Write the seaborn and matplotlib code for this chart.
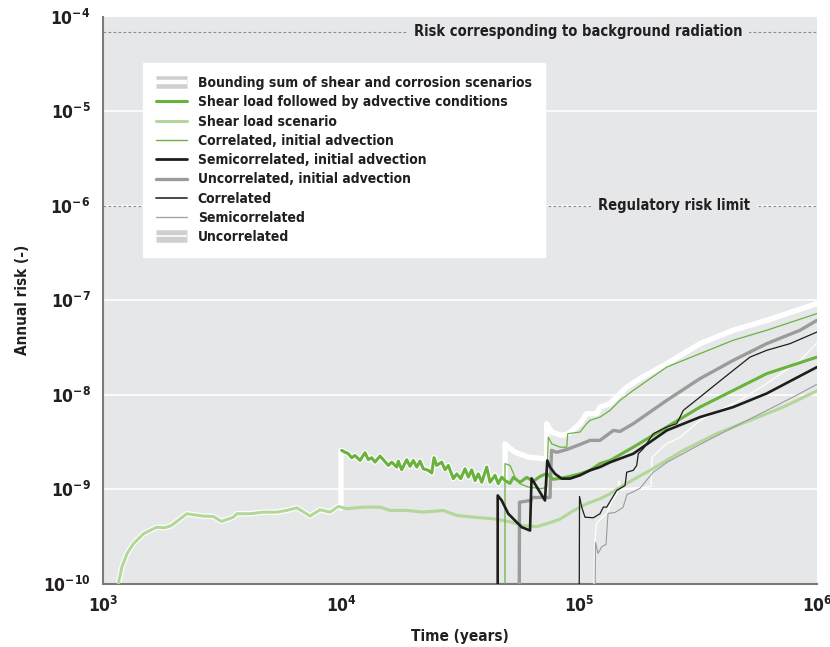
import numpy as np
import pandas as pd
import matplotlib
matplotlib.use("Agg")
import matplotlib.pyplot as plt
import matplotlib.patheffects as pe
from matplotlib.lines import Line2D
from matplotlib.ticker import LogLocator, FuncFormatter, NullFormatter
import matplotlib.transforms as mtransforms
import seaborn as sns

# ---------------- data (time in years, annual risk) ----------------
shear_t = [1160, 1200, 1260, 1340, 1480, 1680, 1820, 1940, 2250, 2640, 2910, 3150, 3530,
           3650, 4150, 4720, 5370, 5910, 6520, 7410, 8160, 8990, 9740, 10570, 12410, 14590,
           16070, 18890, 22170, 26910, 30630, 35970, 43640, 51290, 58340, 66420, 73150,
           83220, 94650, 107800, 122500, 135000, 148700, 198800, 274300, 378900, 523000,
           721900, 1000000]
shear_r = [1.0e-10, 1.49e-10, 2.06e-10, 2.63e-10, 3.36e-10, 3.95e-10, 3.89e-10, 4.12e-10,
           5.48e-10, 5.17e-10, 5.13e-10, 4.54e-10, 5.04e-10, 5.48e-10, 5.48e-10, 5.70e-10,
           5.70e-10, 5.94e-10, 6.34e-10, 5.17e-10, 6.04e-10, 5.70e-10, 6.55e-10, 6.19e-10,
           6.44e-10, 6.44e-10, 5.94e-10, 5.94e-10, 5.70e-10, 5.94e-10, 5.26e-10, 5.04e-10,
           4.85e-10, 4.50e-10, 4.10e-10, 4.0e-10, 4.30e-10, 4.80e-10, 5.9e-10, 7.0e-10,
           7.9e-10, 8.9e-10, 1.05e-9, 1.58e-9, 2.57e-9, 3.86e-9, 5.35e-9, 7.4e-9, 1.1e-8]

adv_t = [10068, 10395, 10731, 11089, 11450, 12016, 12612, 13021, 13457, 13895, 14585, 15058,
         15804, 16333, 17142, 17410, 17991, 18884, 19497, 20130, 20804, 21478, 22176, 23275,
         24054, 24595, 25246, 26497, 27357, 28245, 29648, 30640, 31842, 33195, 34273, 35420,
         36571, 37757, 39021, 40951, 42281, 44365, 45805, 47338, 48874, 51295, 52960, 56502,
         60290, 64270, 68570, 73150, 78000, 83220, 88800, 100970, 111200, 122500, 135000,
         169100, 233700, 322500, 444800, 614800, 1000000]
adv_r = [2.57e-9, 2.46e-9, 2.37e-9, 2.15e-9, 2.27e-9, 2.01e-9, 2.43e-9, 2.05e-9, 2.15e-9,
         1.93e-9, 2.24e-9, 2.05e-9, 1.78e-9, 1.93e-9, 1.71e-9, 1.98e-9, 1.60e-9, 2.05e-9,
         1.74e-9, 2.01e-9, 1.71e-9, 1.98e-9, 1.64e-9, 1.58e-9, 1.48e-9, 2.15e-9, 1.78e-9,
         1.93e-9, 1.60e-9, 1.78e-9, 1.29e-9, 1.45e-9, 1.29e-9, 1.64e-9, 1.34e-9, 1.60e-9,
         1.23e-9, 1.45e-9, 1.18e-9, 1.71e-9, 1.18e-9, 1.40e-9, 1.14e-9, 1.34e-9, 1.23e-9,
         1.15e-9, 1.33e-9, 1.18e-9, 1.33e-9, 1.21e-9, 1.36e-9, 1.46e-9, 1.27e-9, 1.30e-9,
         1.34e-9, 1.45e-9, 1.58e-9, 1.86e-9, 2.01e-9, 2.78e-9, 4.54e-9, 7.39e-9, 1.11e-8,
         1.67e-8, 2.50e-8]

corr_adv_t = [48874, 48874, 51295, 53830, 56502, 61230, 69700, 73150, 74300, 76790, 83220,
              88800, 89660, 100970, 107740, 111200, 122500, 135000, 148700, 169100, 233700,
              322500, 444800, 614800, 1000000]
corr_adv_r = [1e-11, 1.86e-9, 1.78e-9, 1.34e-9, 1.14e-9, 1.05e-9, 1.01e-9, 1.05e-9, 3.55e-9,
              3.02e-9, 2.78e-9, 2.78e-9, 3.86e-9, 4.02e-9, 4.93e-9, 5.34e-9, 5.79e-9, 6.82e-9,
              8.70e-9, 1.11e-8, 1.96e-8, 2.72e-8, 3.77e-8, 4.81e-8, 7.23e-8]

semi_adv_t = [45540, 45540, 47338, 50460, 53830, 57440, 62260, 63170, 71960, 73580, 75530,
              79300, 84600, 91660, 100970, 111200, 122500, 135000, 169100, 233700, 322500,
              444800, 614800, 1000000]
semi_adv_r = [1e-11, 8.56e-10, 7.58e-10, 5.48e-10, 4.65e-10, 3.95e-10, 3.64e-10, 1.30e-9,
              7.58e-10, 2.01e-9, 1.71e-9, 1.45e-9, 1.29e-9, 1.29e-9, 1.40e-9, 1.58e-9,
              1.71e-9, 1.92e-9, 2.37e-9, 4.18e-9, 5.79e-9, 7.39e-9, 1.03e-8, 1.96e-8]

unc_adv_t = [55960, 56230, 62860, 63470, 75530, 76640, 80600, 89060, 100970, 111200, 122500,
             139400, 148700, 169100, 233700, 322500, 444800, 614800, 848300, 1000000]
unc_adv_r = [1e-11, 7.27e-10, 7.58e-10, 8.15e-10, 8.15e-10, 2.57e-9, 2.45e-9, 2.63e-9,
             2.97e-9, 3.28e-9, 3.28e-9, 4.18e-9, 4.08e-9, 4.93e-9, 8.70e-9, 1.48e-8,
             2.31e-8, 3.47e-8, 4.81e-8, 6.13e-8]

corr_t = [100000, 100500, 102650, 105980, 114840, 122500, 126500, 130740, 137200, 144000,
          156100, 158690, 169100, 174750, 177470, 186270, 205200, 233700, 257380, 274300,
          322500, 378900, 444800, 523000, 614800, 770000, 1000000]
corr_r = [1e-11, 8.36e-10, 6.44e-10, 5.04e-10, 4.97e-10, 5.48e-10, 6.44e-10, 6.44e-10,
          7.90e-10, 9.67e-10, 1.09e-9, 1.51e-9, 1.58e-9, 1.78e-9, 2.37e-9, 2.68e-9,
          3.86e-9, 4.54e-9, 4.93e-9, 6.82e-9, 9.44e-9, 1.31e-8, 1.81e-8, 2.50e-8, 2.95e-8,
          3.47e-8, 4.61e-8]

semi_t = [116180, 117310, 120200, 124900, 129860, 132400, 141650, 153100, 159150, 167000,
          180500, 204600, 234400, 322500, 443600, 616600, 848300, 1000000]
semi_r = [1e-11, 2.72e-10, 2.08e-10, 2.47e-10, 2.59e-10, 5.52e-10, 5.65e-10, 6.39e-10,
          8.78e-10, 9.22e-10, 1.02e-9, 1.50e-9, 1.92e-9, 2.97e-9, 4.50e-9, 6.82e-9,
          1.03e-8, 1.29e-8]

unc_t = [114500, 116180, 118460, 124900, 131150, 137600, 144400, 147230, 150100, 163800,
         189400, 200700, 202600, 212700, 234400, 265700, 322500, 365700, 474800, 616600,
         848300, 1000000]
unc_r = [1e-11, 2.53e-10, 4.32e-10, 5.01e-10, 5.52e-10, 7.58e-10, 8.99e-10, 1.23e-9,
         9.67e-10, 1.02e-9, 1.04e-9, 1.07e-9, 2.16e-9, 2.45e-9, 3.05e-9, 3.53e-9, 5.34e-9,
         6.34e-9, 8.70e-9, 1.32e-8, 2.31e-8, 3.50e-8]

# bounding sum: follows shear scenario to 1e4, then advective case, then its own path
bound_tail_t = [48874, 50460, 53830, 61230, 70790, 73150, 73150, 76790, 84600, 90180,
                100970, 107740, 118690, 122500, 135000, 144000, 158690, 180500, 233700,
                322500, 444800, 614800, 1000000]
bound_tail_r = [3.02e-9, 2.78e-9, 2.46e-9, 2.18e-9, 2.10e-9, 2.10e-9, 4.93e-9, 4.02e-9,
                3.70e-9, 3.86e-9, 4.93e-9, 6.29e-9, 6.29e-9, 7.39e-9, 8.03e-9, 9.44e-9,
                1.20e-8, 1.48e-8, 2.13e-8, 3.47e-8, 4.81e-8, 6.13e-8, 9.22e-8]
bound_t = shear_t[:23] + [10000, 10000] + adv_t[:44] + [48874] + bound_tail_t
bound_r = shear_r[:23] + [6.3e-10, 2.57e-9] + adv_r[:44] + [1.23e-9] + bound_tail_r

bg_risk = 7e-5
reg_risk = 1e-6

labels = ["Bounding sum of shear and corrosion scenarios",
          "Shear load followed by advective conditions",
          "Shear load scenario",
          "Correlated, initial advection",
          "Semicorrelated, initial advection",
          "Uncorrelated, initial advection",
          "Correlated",
          "Semicorrelated",
          "Uncorrelated"]

# ---------------- style ----------------
BG = "#e6e7e8"
GREEN = "#6ab23e"
LGREEN = "#b2d799"
sns.set_style("white")
plt.rcParams["font.family"] = ["DejaVu Sans"]
plt.rcParams["font.stretch"] = "condensed"
plt.rcParams["font.weight"] = "bold"
plt.rcParams["mathtext.default"] = "regular"
TXT = "#231f20"

fig = plt.figure(figsize=(8.30, 6.47), dpi=100)
ax = fig.add_axes([103 / 830, 1 - 583.5 / 647, 714 / 830, 566.5 / 647])
ax.set_facecolor(BG)

series = [
    (bound_t, bound_r, "white", 3.9, 2),
    (unc_t, unc_r, "white", 0.9, 3),
    (shear_t, shear_r, LGREEN, 2.2, 4),
    (unc_adv_t, unc_adv_r, "#9b9b9b", 2.4, 5),
    (semi_t, semi_r, "#9b9b9b", 0.8, 5),
    (adv_t, adv_r, GREEN, 2.2, 6),
    (corr_adv_t, corr_adv_r, GREEN, 0.9, 7),
    (semi_adv_t, semi_adv_r, "#1d1d1b", 1.9, 8),
    (corr_t, corr_r, "#1d1d1b", 0.9, 9),
]
for t, r, c, lw, z in series:
    df = pd.DataFrame({"t": t, "r": r})
    sns.lineplot(data=df, x="t", y="r", ax=ax, sort=False, estimator=None,
                 color=c, linewidth=lw, zorder=z, legend=False)

ax.set_xscale("log")
ax.set_yscale("log")
ax.set_xlim(1e3, 1e6)
ax.set_ylim(1e-10, 1e-4)

for yv in [1e-9, 1e-8, 1e-7, 1e-6, 1e-5]:
    ax.axhline(yv, color="white", lw=1.2, zorder=1)

ax.axhline(bg_risk, color="#8c8c8c", lw=0.8, ls=(0, (2.5, 2)), zorder=1)
ax.axhline(reg_risk, color="#8c8c8c", lw=0.8, ls=(0, (2.5, 2)), zorder=1)
trans = mtransforms.blended_transform_factory(ax.transAxes, ax.transData)
ax.text(0.665, bg_risk, "Risk corresponding to background radiation", transform=trans,
        ha="center", va="center", fontsize=10.5, color=TXT, fontweight="bold", zorder=3,
        bbox=dict(facecolor=BG, edgecolor="none", pad=5))
ax.text(0.80, reg_risk, "Regulatory risk limit", transform=trans,
        ha="center", va="center", fontsize=10.5, color=TXT, fontweight="bold", zorder=3,
        bbox=dict(facecolor=BG, edgecolor="none", pad=5))

for s in ["top", "right"]:
    ax.spines[s].set_visible(False)
for s in ["left", "bottom"]:
    ax.spines[s].set_color("#7a7a7a")
    ax.spines[s].set_linewidth(1.5)

fmt = FuncFormatter(lambda v, p: r"$\mathdefault{10^{%d}}$" % int(round(np.log10(v))))
for axis in (ax.xaxis, ax.yaxis):
    axis.set_major_locator(LogLocator(base=10, numticks=10))
    axis.set_minor_locator(LogLocator(base=10, subs=np.arange(2, 10), numticks=10))
    axis.set_major_formatter(fmt)
    axis.set_minor_formatter(NullFormatter())
ax.tick_params(which="both", direction="out", color="#555555", width=0.8)
ax.tick_params(which="major", length=4, labelsize=12.5, labelcolor=TXT, pad=5)
ax.tick_params(which="minor", length=3)
for lab in ax.get_xticklabels() + ax.get_yticklabels():
    lab.set_fontweight("bold")

ax.set_xlabel("Time (years)", fontsize=11, color=TXT, fontweight="bold", labelpad=9)
ax.set_ylabel("Annual risk (-)", fontsize=11, color=TXT, fontweight="bold", labelpad=9)

# legend
box = [pe.Stroke(linewidth=9, foreground="#cfcfcf", capstyle="butt"), pe.Normal()]
handles = [
    Line2D([], [], color="white", lw=3.2, solid_capstyle="butt", path_effects=box),
    Line2D([], [], color=GREEN, lw=2.2),
    Line2D([], [], color=LGREEN, lw=2.2),
    Line2D([], [], color=GREEN, lw=1.0),
    Line2D([], [], color="#1d1d1b", lw=2.0),
    Line2D([], [], color="#9b9b9b", lw=2.4),
    Line2D([], [], color="#3a3a3a", lw=1.3),
    Line2D([], [], color="#a5a5a5", lw=1.0),
    Line2D([], [], color="white", lw=1.2, solid_capstyle="butt", path_effects=box),
]
leg = ax.legend(handles, labels, loc="upper left", bbox_to_anchor=(0.056, 0.919),
                borderaxespad=0, frameon=True, fancybox=False, framealpha=1,
                edgecolor="white", facecolor="white", fontsize=10,
                handlelength=2.2, handletextpad=0.8, labelspacing=0.38,
                borderpad=0.95)
for t in leg.get_texts():
    t.set_color(TXT)
    t.set_fontweight("bold")
leg.set_zorder(20)

fig.savefig("out.png", dpi=100, facecolor="white")
